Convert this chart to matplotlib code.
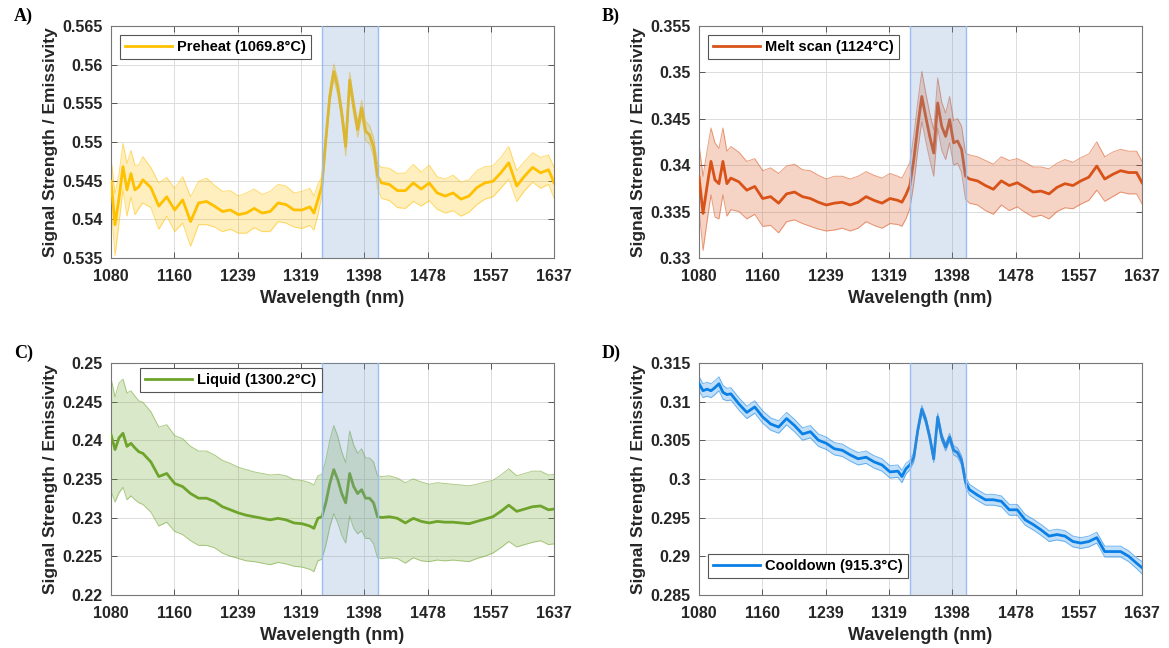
import matplotlib
matplotlib.use("Agg")
import matplotlib.pyplot as plt
import numpy as np

# wavelength grid (nm)
wl = [1080, 1085, 1090, 1095, 1100, 1105, 1110, 1115, 1120,
      1130, 1140, 1150, 1160, 1170, 1180, 1190, 1200, 1210, 1220, 1230, 1240,
      1250, 1260, 1270, 1280, 1290, 1300, 1310, 1320, 1330,
      1335, 1340, 1345, 1350, 1355, 1360, 1365, 1370, 1375, 1380, 1385, 1390,
      1395, 1400, 1405, 1410, 1415, 1420,
      1430, 1440, 1450, 1460, 1470, 1480, 1490, 1500, 1510, 1520, 1530, 1540,
      1550, 1560, 1570, 1580, 1590, 1600, 1610, 1620, 1630, 1637]

# A) preheat
preheat_mean = [0.5449, 0.5393, 0.5427, 0.5468, 0.5438, 0.5459, 0.5438, 0.5442, 0.5451,
                0.5441, 0.5417, 0.5429, 0.5412, 0.5425, 0.5397, 0.5421, 0.5423, 0.5417, 0.5410, 0.5412, 0.5406,
                0.5408, 0.5414, 0.5408, 0.5410, 0.5421, 0.5419, 0.5412, 0.5412, 0.5416,
                0.5408, 0.5425, 0.5443, 0.5503, 0.5559, 0.5591, 0.5571, 0.5537, 0.5494, 0.5580, 0.5546, 0.5516,
                0.5544, 0.5514, 0.5509, 0.5494, 0.5456, 0.5447,
                0.5445, 0.5437, 0.5437, 0.5447, 0.5439, 0.5447, 0.5434, 0.5430, 0.5434, 0.5426, 0.5430, 0.5441,
                0.5447, 0.5449, 0.5460, 0.5473, 0.5443, 0.5456, 0.5467, 0.5460, 0.5464, 0.5447]
preheat_sd = [0.0030, 0.0040, 0.0032, 0.0030, 0.0034, 0.0030, 0.0032, 0.0028, 0.0030,
              0.0026, 0.0030, 0.0025, 0.0028, 0.0030, 0.0032, 0.0028, 0.0030, 0.0027, 0.0026, 0.0025, 0.0024,
              0.0026, 0.0025, 0.0024, 0.0026, 0.0024, 0.0024, 0.0022, 0.0024, 0.0024,
              0.0022, 0.0020, 0.0012, 0.0010, 0.0009, 0.0010, 0.0010, 0.0009, 0.0012, 0.0010, 0.0010, 0.0010,
              0.0010, 0.0012, 0.0012, 0.0012, 0.0016, 0.0020,
              0.0021, 0.0022, 0.0023, 0.0024, 0.0022, 0.0023, 0.0021, 0.0022, 0.0023, 0.0022, 0.0021, 0.0022,
              0.0021, 0.0020, 0.0020, 0.0021, 0.0020, 0.0019, 0.0019, 0.0020, 0.0019, 0.0020]

# B) melt scan
melt_mean = [0.3387, 0.3348, 0.3377, 0.3404, 0.3384, 0.3380, 0.3404, 0.3380, 0.3386,
             0.3382, 0.3373, 0.3377, 0.3364, 0.3366, 0.3359, 0.3369, 0.3371, 0.3366, 0.3364, 0.3360, 0.3357,
             0.3359, 0.3360, 0.3357, 0.3360, 0.3366, 0.3362, 0.3359, 0.3364, 0.3362,
             0.3360, 0.3368, 0.3378, 0.3406, 0.3442, 0.3474, 0.3452, 0.3431, 0.3413, 0.3467, 0.3442, 0.3431,
             0.3449, 0.3424, 0.3426, 0.3417, 0.3388, 0.3385,
             0.3383, 0.3378, 0.3374, 0.3383, 0.3378, 0.3381, 0.3376, 0.3371, 0.3372, 0.3369, 0.3376, 0.3380,
             0.3378, 0.3383, 0.3387, 0.3399, 0.3385, 0.3390, 0.3394, 0.3392, 0.3392, 0.3381]
melt_sd = [0.0035, 0.0040, 0.0038, 0.0036, 0.0040, 0.0038, 0.0036, 0.0035, 0.0034,
           0.0032, 0.0031, 0.0030, 0.0030, 0.0031, 0.0032, 0.0030, 0.0030, 0.0029, 0.0030, 0.0029, 0.0028,
           0.0029, 0.0028, 0.0028, 0.0028, 0.0027, 0.0027, 0.0027, 0.0027, 0.0026,
           0.0026, 0.0026, 0.0025, 0.0026, 0.0026, 0.0027, 0.0026, 0.0025, 0.0025, 0.0027, 0.0026, 0.0025,
           0.0025, 0.0024, 0.0024, 0.0025, 0.0025, 0.0026,
           0.0026, 0.0027, 0.0027, 0.0026, 0.0027, 0.0026, 0.0027, 0.0027, 0.0026, 0.0027, 0.0026, 0.0026,
           0.0025, 0.0025, 0.0025, 0.0026, 0.0024, 0.0024, 0.0023, 0.0023, 0.0023, 0.0023]

# C) liquid
liquid_mean = [0.2407, 0.2388, 0.2403, 0.2409, 0.2392, 0.2396, 0.2390, 0.2385, 0.2383,
               0.2372, 0.2353, 0.2357, 0.2344, 0.2340, 0.2331, 0.2325, 0.2325, 0.2321, 0.2314, 0.2310, 0.2306,
               0.2303, 0.2301, 0.2299, 0.2297, 0.2299, 0.2297, 0.2293, 0.2292, 0.2289,
               0.2286, 0.2299, 0.2301, 0.2319, 0.2344, 0.2362, 0.2349, 0.2331, 0.2319, 0.2357, 0.2340, 0.2331,
               0.2336, 0.2325, 0.2325, 0.2319, 0.2301, 0.2300,
               0.2301, 0.2299, 0.2293, 0.2299, 0.2295, 0.2293, 0.2295, 0.2294, 0.2294, 0.2293, 0.2292, 0.2295,
               0.2298, 0.2301, 0.2308, 0.2316, 0.2308, 0.2311, 0.2314, 0.2315, 0.2310, 0.2311]
liquid_sd = [0.0073, 0.0068, 0.0071, 0.0070, 0.0069, 0.0068, 0.0067, 0.0066, 0.0066,
             0.0065, 0.0064, 0.0063, 0.0062, 0.0062, 0.0061, 0.0061, 0.0061, 0.0060, 0.0060, 0.0060, 0.0059,
             0.0059, 0.0058, 0.0058, 0.0058, 0.0057, 0.0057, 0.0056, 0.0056, 0.0056,
             0.0056, 0.0055, 0.0055, 0.0055, 0.0056, 0.0057, 0.0056, 0.0054, 0.0052, 0.0055, 0.0054, 0.0052,
             0.0053, 0.0052, 0.0052, 0.0053, 0.0053, 0.0053,
             0.0053, 0.0052, 0.0052, 0.0051, 0.0051, 0.0050, 0.0050, 0.0050, 0.0049, 0.0049, 0.0049, 0.0048,
             0.0048, 0.0047, 0.0047, 0.0047, 0.0046, 0.0046, 0.0046, 0.0045, 0.0045, 0.0045]

# D) cooldown
cool_mean = [0.3123, 0.3114, 0.3116, 0.3114, 0.3118, 0.3123, 0.3112, 0.3109, 0.3110,
             0.3097, 0.3086, 0.3093, 0.3080, 0.3071, 0.3067, 0.3078, 0.3069, 0.3058, 0.3061, 0.3050, 0.3046,
             0.3039, 0.3037, 0.3031, 0.3026, 0.3028, 0.3022, 0.3018, 0.3009, 0.3010,
             0.3003, 0.3013, 0.3018, 0.3028, 0.3063, 0.3090, 0.3076, 0.3054, 0.3026, 0.3080, 0.3054, 0.3041,
             0.3054, 0.3037, 0.3034, 0.3024, 0.2996, 0.2986,
             0.2979, 0.2973, 0.2973, 0.2971, 0.2960, 0.2960, 0.2947, 0.2941, 0.2934, 0.2926, 0.2928, 0.2926,
             0.2919, 0.2917, 0.2919, 0.2924, 0.2906, 0.2906, 0.2906, 0.2900, 0.2891, 0.2885]
cool_sd = [0.0009, 0.0009, 0.0009, 0.0009, 0.0009, 0.0009, 0.0009, 0.0008, 0.0008,
           0.0008, 0.0008, 0.0008, 0.0008, 0.0008, 0.0008, 0.0008, 0.0008, 0.0008, 0.0008, 0.0008, 0.0008,
           0.0008, 0.0008, 0.0008, 0.0008, 0.0008, 0.0008, 0.0008, 0.0008, 0.0008,
           0.0008, 0.0007, 0.0006, 0.0006, 0.0005, 0.0005, 0.0005, 0.0005, 0.0005, 0.0005, 0.0005, 0.0005,
           0.0005, 0.0006, 0.0006, 0.0006, 0.0007, 0.0007,
           0.0007, 0.0007, 0.0007, 0.0007, 0.0007, 0.0007, 0.0007, 0.0007, 0.0007, 0.0007, 0.0007, 0.0007,
           0.0007, 0.0007, 0.0007, 0.0007, 0.0007, 0.0007, 0.0007, 0.0007, 0.0007, 0.0008]

panels = [
    ("A)", "Preheat (1069.8\u00b0C)", preheat_mean, preheat_sd, "#FFC000", (0.535, 0.565), "upper left"),
    ("B)", "Melt scan (1124\u00b0C)", melt_mean, melt_sd, "#D95319", (0.33, 0.355), "upper left"),
    ("C)", "Liquid (1300.2\u00b0C)", liquid_mean, liquid_sd, "#6FA42C", (0.22, 0.25), "upper left"),
    ("D)", "Cooldown (915.3\u00b0C)", cool_mean, cool_sd, "#0A80E6", (0.285, 0.315), "lower left"),
]
band = (1345, 1416)
xticks = np.linspace(1080, 1637, 8)

plt.rcParams['font.family'] = ['Liberation Sans', 'DejaVu Sans']
plt.rcParams['font.weight'] = 'bold'

fig = plt.figure(figsize=(11.69, 6.48), dpi=100)
rects = [(0.095, 0.602, 0.379, 0.358), (0.598, 0.602, 0.379, 0.358),
         (0.095, 0.082, 0.379, 0.358), (0.598, 0.082, 0.379, 0.358)]
leg_anchor = [(0.0, 1.0), (0.0, 1.0), (0.045, 1.015), (0.0, 0.035)]

for (tag, name, m, sd, col, ylim, loc), r, anc in zip(panels, rects, leg_anchor):
    ax = fig.add_axes(r)
    m = np.array(m)
    sd = np.array(sd)
    lo, hi = m - sd, m + sd
    ax.fill_between(wl, lo, hi, color=col, alpha=0.25, lw=0, zorder=2)
    ax.plot(wl, lo, color=col, lw=0.7, alpha=0.55, zorder=2)
    ax.plot(wl, hi, color=col, lw=0.7, alpha=0.55, zorder=2)
    ax.plot(wl, m, color=col, lw=2.0, label=name, zorder=3)
    ax.axvspan(band[0], band[1], facecolor=(0.45, 0.61, 0.81), alpha=0.25, lw=0, zorder=4)
    ax.axvline(band[0], color=(0.6, 0.75, 0.95), lw=1, zorder=4)
    ax.axvline(band[1], color=(0.6, 0.75, 0.95), lw=1, zorder=4)

    ax.set_xlim(1080, 1637)
    ax.set_ylim(*ylim)
    ax.set_xticks(xticks)
    ax.set_xticklabels([str(int(round(v))) for v in xticks])
    yt = np.arange(ylim[0], ylim[1] + 1e-9, 0.005)
    ax.set_yticks(yt)
    ax.set_yticklabels(["%g" % round(v, 3) for v in yt])
    ax.tick_params(direction='in', length=4, width=0.7, colors='#555555',
                   labelcolor='#262626', labelsize=11.5, top=True, right=True)
    ax.tick_params(axis='x', pad=8)
    ax.tick_params(axis='y', pad=6)
    ax.grid(True, color='#dcdcdc', lw=0.7, zorder=0)
    ax.set_axisbelow(True)
    for s in ax.spines.values():
        s.set_color('#777777')
        s.set_linewidth(0.8)
    ax.set_xlabel("Wavelength (nm)", fontsize=13, fontweight='bold', color='#262626', labelpad=4)
    ax.set_ylabel("Signal Strength / Emissivity", fontsize=12.5, fontweight='bold', color='#262626', labelpad=3)

    leg = ax.legend(loc=loc, bbox_to_anchor=anc, fontsize=10.5, frameon=True, fancybox=False,
                    handlelength=3.2, borderpad=0.35, borderaxespad=0.6, handletextpad=0.4)
    leg.get_frame().set_edgecolor('#555555')
    leg.get_frame().set_linewidth(0.8)
    leg.get_frame().set_alpha(1)
    for t in leg.get_texts():
        t.set_fontweight('bold')

    fig.text(r[0] - 0.083, r[1] + r[3] + 0.015, tag, family=['Liberation Serif'],
             fontsize=13, fontweight='bold', va='center', ha='left')

fig.savefig("out.png", dpi=100)
